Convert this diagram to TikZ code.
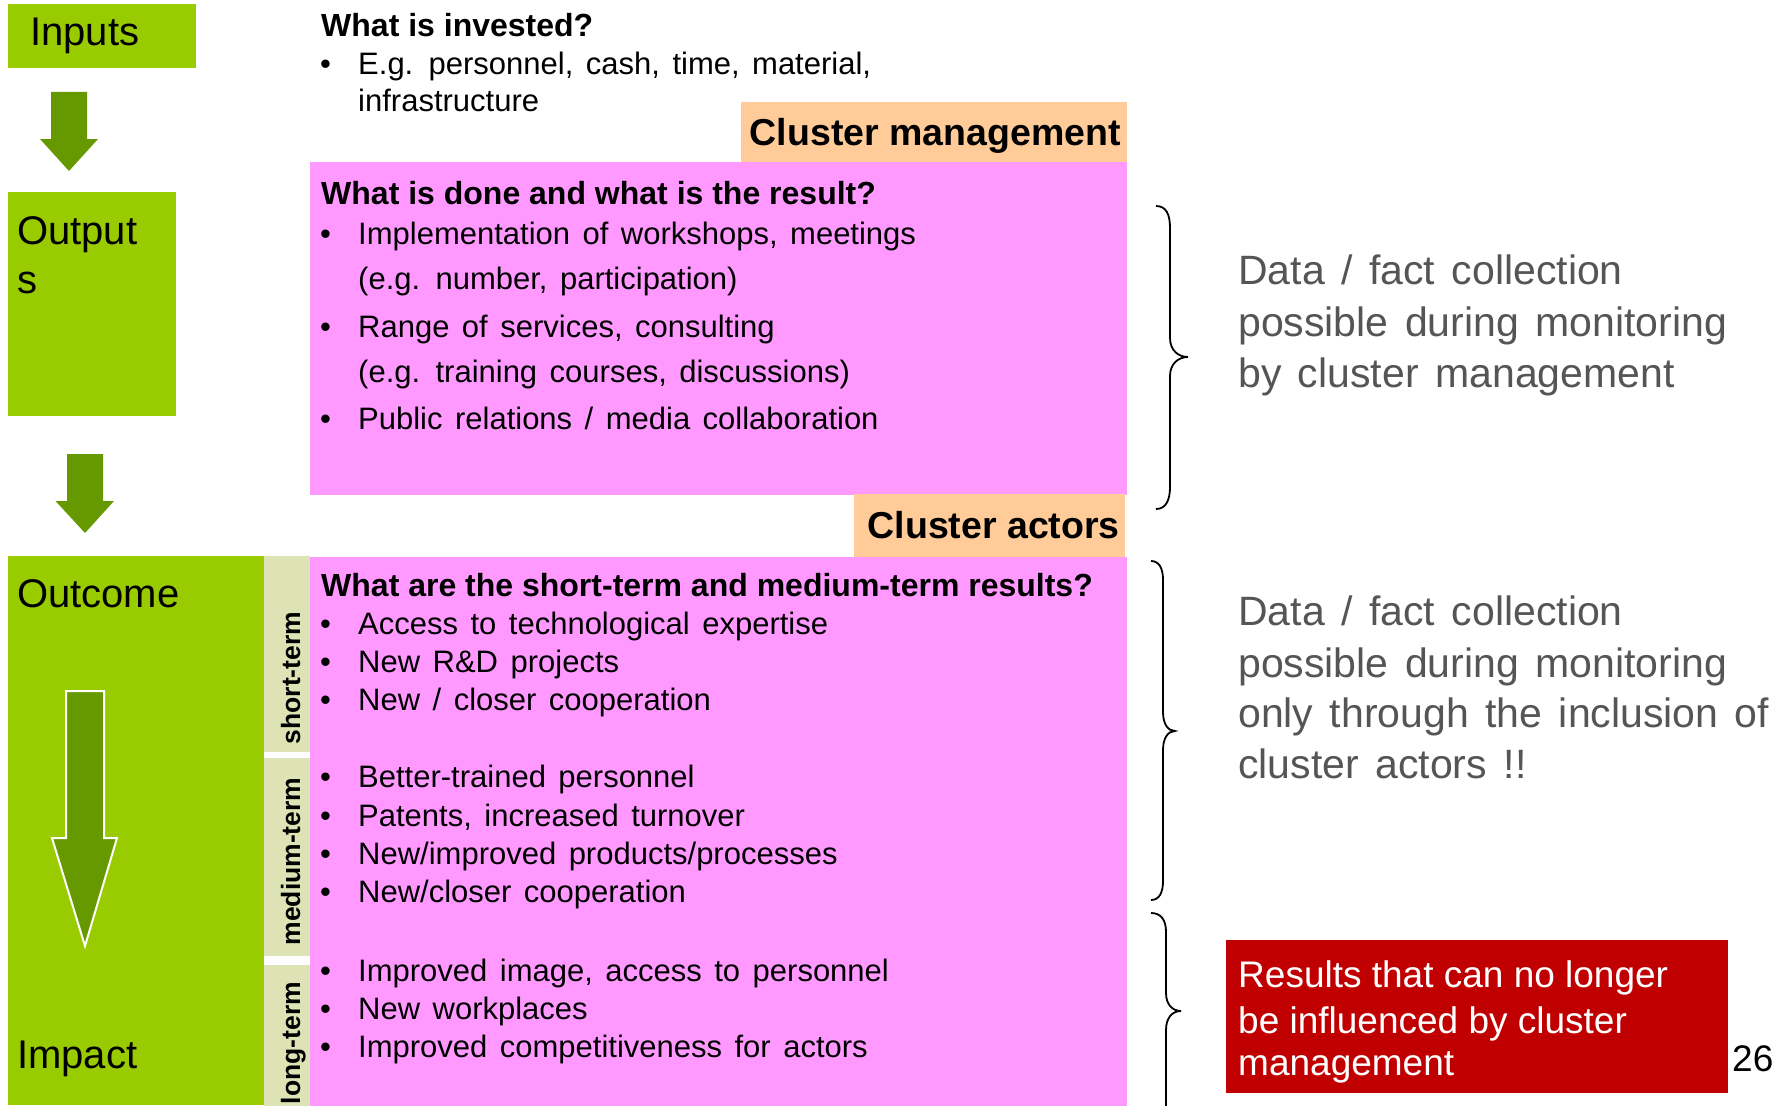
\documentclass[tikz,border=0pt]{standalone}
\usepackage{fontspec}
\setmainfont{Liberation Sans}
\newfontfamily\spacedfont[WordSpace=1.45]{Liberation Sans}
\definecolor{cgreen}{HTML}{99CC00}
\definecolor{cdark}{HTML}{669900}
\definecolor{cpink}{HTML}{FF99FF}
\definecolor{corange}{HTML}{FFCC99}
\definecolor{cterm}{HTML}{DDE3B5}
\definecolor{cred}{HTML}{C00000}
\definecolor{cgray}{HTML}{555555}
\begin{document}
\begin{tikzpicture}[x=1pt,y=-1pt,
  box/.style={anchor=north west,inner sep=0pt,outer sep=0pt,draw=none},
  body/.style={anchor=base west,inner sep=0pt,font=\spacedfont\fontsize{31}{37}\selectfont},
  bul/.style={anchor=base west,inner sep=0pt,font=\fontsize{31}{37}\selectfont},
  head/.style={anchor=base west,inner sep=0pt,font=\fontsize{32}{38}\selectfont\bfseries},
  stage/.style={anchor=base west,inner sep=0pt,font=\fontsize{40}{48}\selectfont},
  tag/.style={anchor=base east,inner sep=0pt,font=\fontsize{37.5}{45}\selectfont\bfseries},
  term/.style={anchor=base,rotate=90,inner sep=0pt,font=\fontsize{26.5}{30}\selectfont\bfseries},
  note/.style={anchor=base west,inner sep=0pt,text=cgray,font=\spacedfont\fontsize{41}{50}\selectfont},
  warn/.style={anchor=base west,inner sep=0pt,text=white,font=\fontsize{37}{44}\selectfont},
  brace/.style={draw=black,line width=1.8pt},
  blockarrow/.style={fill=cdark,draw=none}
]
\useasboundingbox (0,0) rectangle (1787,1105);
\clip (0,0) rectangle (1787,1105);

% ---------- left stage boxes ----------
\node[box,fill=cgreen,minimum width=188pt,minimum height=64pt] (inbox) at (8,4) {};
\node[box,fill=cgreen,minimum width=168pt,minimum height=224pt] (outbox) at (8,192) {};
\node[box,fill=cgreen,minimum width=256pt,minimum height=549pt] (outcomebox) at (8,556) {};

\node[stage] (inputs) at (30,46) {Inputs};
\node[stage] (output1) at (17,244) {Output};
\node[stage] (output2) at (17,293) {s};
\node[stage] (outcome) at (17,607) {Outcome};
\node[stage] (impact) at (17,1068) {Impact};

% block arrows
\fill[blockarrow] (51,92) -- (87,92) -- (87,139) -- (98,139) -- (69,171) -- (40,139) -- (51,139) -- cycle;
\fill[blockarrow] (67,454) -- (103,454) -- (103,501) -- (114,501) -- (85,533) -- (55.5,501) -- (67,501) -- cycle;
\draw[fill=cdark,draw=white,line width=2pt] (66,691) -- (104,691) -- (104,838) -- (117,838) -- (85,946) -- (52,838) -- (66,838) -- cycle;

% ---------- term column ----------
\node[box,fill=cterm,minimum width=46pt,minimum height=196pt] (stbox) at (264,556) {};
\node[box,fill=cterm,minimum width=46pt,minimum height=198pt] (mtbox) at (264,758) {};
\node[box,fill=cterm,minimum width=46pt,minimum height=141pt] (ltbox) at (264,964.5) {};
\node[term] (st) at (300,678) {short-term};
\node[term] (mt) at (300,861.5) {medium-term};
\node[term] (lt) at (300,1043) {long-term};

% ---------- pink boxes and tags ----------
\node[box,fill=cpink,minimum width=817pt,minimum height=333pt] (pink1) at (310,162) {};
\node[box,fill=cpink,minimum width=817pt,minimum height=549pt] (pink2) at (310,556.5) {};
\node[box,fill=corange,minimum width=386pt,minimum height=60.5pt] (cmbox) at (741,101.7) {};
\node[box,fill=corange,minimum width=271pt,minimum height=62.5pt] (cabox) at (854,494.3) {};
\node[tag] (cm) at (1121,145) {Cluster management};
\node[tag] (ca) at (1120,538.3) {Cluster actors};

% ---------- inputs text ----------
\node[head] (h1) at (321,37) {What is invested?};
\node[bul] (b11) at (320,75) {•};
\node[body] (t11) at (358,75) {E.g. personnel, cash, time, material,};
\node[body] (t12) at (358,112) {infrastructure};

% ---------- outputs text ----------
\node[head] (h2) at (321,204) {What is done and what is the result?};
\node[bul] (b21) at (320,244) {•};
\node[body] (t21) at (358,244) {Implementation of workshops, meetings};
\node[body] (t22) at (358,289) {(e.g. number, participation)};
\node[bul] (b23) at (320,337) {•};
\node[body] (t23) at (358,337) {Range of services, consulting};
\node[body] (t24) at (358,382) {(e.g. training courses, discussions)};
\node[bul] (b25) at (320,429) {•};
\node[body] (t25) at (358,429) {Public relations / media collaboration};

% ---------- outcome text ----------
\node[head] (h3) at (321,596) {What are the short-term and medium-term results?};
\node[bul] (b31) at (320,634) {•};
\node[body] (t31) at (358,634) {Access to technological expertise};
\node[bul] (b32) at (320,672) {•};
\node[body] (t32) at (358,672) {New R\&D projects};
\node[bul] (b33) at (320,710) {•};
\node[body] (t33) at (358,710) {New / closer cooperation};
\node[bul] (b34) at (320,787.5) {•};
\node[body] (t34) at (358,787.5) {Better-trained personnel};
\node[bul] (b35) at (320,826) {•};
\node[body] (t35) at (358,826) {Patents, increased turnover};
\node[bul] (b36) at (320,864) {•};
\node[body] (t36) at (358,864) {New/improved products/processes};
\node[bul] (b37) at (320,902) {•};
\node[body] (t37) at (358,902) {New/closer cooperation};
\node[bul] (b38) at (320,981) {•};
\node[body] (t38) at (358,981) {Improved image, access to personnel};
\node[bul] (b39) at (320,1019) {•};
\node[body] (t39) at (358,1019) {New workplaces};
\node[bul] (b310) at (320,1057) {•};
\node[body] (t310) at (358,1057) {Improved competitiveness for actors};

% ---------- braces ----------
\draw[brace] (1156,206) .. controls (1166,206) and (1170,214) .. (1170,228) -- (1170,338)
  .. controls (1170,350) and (1178,357) .. (1188,357)
  .. controls (1178,357) and (1170,364) .. (1170,376) -- (1170,487)
  .. controls (1170,500) and (1166,509) .. (1156,509);
\draw[brace] (1151,561) .. controls (1159,561) and (1163,568) .. (1163,580) -- (1163,712)
  .. controls (1163,724) and (1168,731) .. (1175,731)
  .. controls (1168,731) and (1163,738) .. (1163,750) -- (1163,881)
  .. controls (1163,893) and (1159,900) .. (1151,900);
\draw[brace] (1151,913) .. controls (1161,913) and (1166,920) .. (1166,932) -- (1166,993)
  .. controls (1166,1004) and (1172,1011) .. (1181,1011)
  .. controls (1172,1011) and (1166,1018) .. (1166,1030) -- (1166,1120);

% ---------- notes ----------
\node[note] (n11) at (1238,284) {Data / fact collection};
\node[note] (n12) at (1238,336) {possible during monitoring};
\node[note] (n13) at (1238,387.5) {by cluster management};
\node[note] (n21) at (1238,625) {Data / fact collection};
\node[note] (n22) at (1238,677) {possible during monitoring};
\node[note] (n23) at (1238,727) {only through the inclusion of};
\node[note] (n24) at (1238,778.5) {cluster actors !!};

\node[box,fill=cred,minimum width=501.5pt,minimum height=153pt] (redbox) at (1226,940) {};
\node[warn] (r1) at (1238,987) {Results that can no longer};
\node[warn] (r2) at (1238,1033) {be influenced by cluster};
\node[warn] (r3) at (1238,1075) {management};

\node[anchor=base west,inner sep=0pt,font=\fontsize{37}{44}\selectfont] (pagenum) at (1732,1071.5) {26};
\end{tikzpicture}
\end{document}
